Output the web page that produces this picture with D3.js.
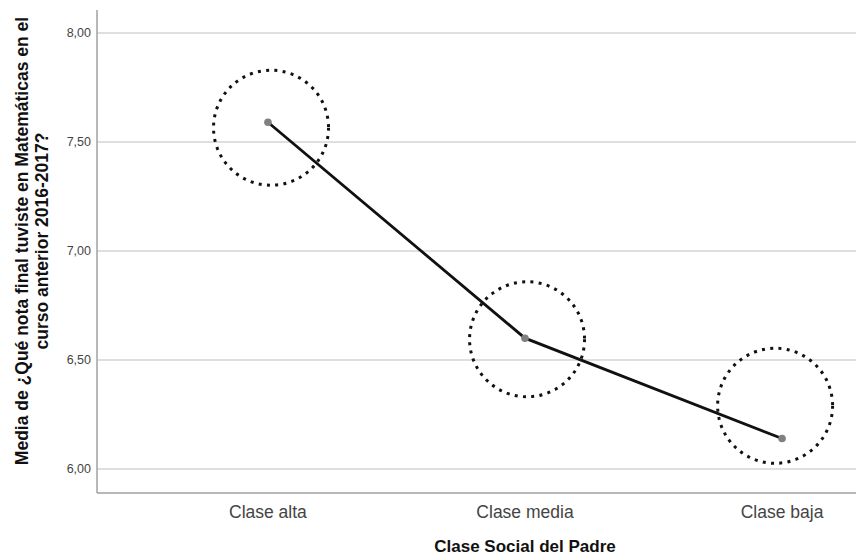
<!DOCTYPE html>
<html>
<head>
<meta charset="utf-8">
<script src="https://cdn.jsdelivr.net/npm/d3@7/dist/d3.min.js"></script>
<style>
  html, body { margin: 0; padding: 0; background: #fff; }
  svg { display: block; font-family: "Liberation Sans", Arial, sans-serif; }
</style>
</head>
<body>
<svg id="chart" width="856" height="556"></svg>
<script>
// ---- data ----
const categories = ["Clase alta", "Clase media", "Clase baja"];
const means = [7.59, 6.60, 6.14];
const yTicks = [6.0, 6.5, 7.0, 7.5, 8.0];
// dotted highlight rings: centre as (category index, value)
const highlightIndex = [0.012, 1.008, 1.973];
const highlightValue = [7.565, 6.595, 6.29];
const yTitleLines = ["Media de ¿Qué nota final tuviste en Matemáticas en el", "curso anterior 2016-2017?"];
const xTitle = "Clase Social del Padre";

// ---- layout ----
const W = 856, H = 556;
const plotLeft = 97, plotTop = 10, plotBottom = 493, rightRange = 953;

const svg = d3.select("#chart");

const x = d3.scalePoint().domain(categories).range([plotLeft, rightRange]).padding(0.665);
const xi = d3.scaleLinear().domain([0, categories.length - 1])
  .range([x(categories[0]), x(categories[categories.length - 1])]);
const y = d3.scaleLinear().domain([5.89, 8.105]).range([plotBottom, plotTop]);

// gridlines
svg.append("g").selectAll("line").data(yTicks).join("line")
  .attr("x1", plotLeft).attr("x2", W)
  .attr("y1", d => y(d)).attr("y2", d => y(d))
  .attr("stroke", "#d4d4d4").attr("stroke-width", 1.5);

// axes lines
svg.append("line").attr("x1", plotLeft).attr("x2", plotLeft).attr("y1", plotTop).attr("y2", plotBottom)
  .attr("stroke", "#a0a0a0").attr("stroke-width", 1.5);
svg.append("line").attr("x1", plotLeft).attr("x2", W).attr("y1", plotBottom).attr("y2", plotBottom)
  .attr("stroke", "#a0a0a0").attr("stroke-width", 1.5);

// y tick labels
const fmt = d => d3.format(".2f")(d).replace(".", ",");
svg.append("g").selectAll("text").data(yTicks).join("text")
  .attr("x", plotLeft - 6).attr("y", d => y(d)).attr("dy", "0.35em")
  .attr("text-anchor", "end").attr("font-size", 12.5).attr("fill", "#444")
  .text(fmt);

// x tick labels
svg.append("g").selectAll("text").data(categories).join("text")
  .attr("x", d => x(d)).attr("y", 512).attr("dy", "0.35em")
  .attr("text-anchor", "middle").attr("font-size", 17.5).attr("fill", "#444")
  .text(d => d);

// x title
svg.append("text").attr("x", x(categories[1])).attr("y", 546).attr("dy", "0.35em")
  .attr("text-anchor", "middle").attr("font-size", 17).attr("font-weight", "bold").attr("fill", "#111")
  .text(xTitle);

// y title
const yt = svg.append("text").attr("transform", `translate(22, 241) rotate(-90)`)
  .attr("text-anchor", "middle").attr("font-size", 17.5).attr("font-weight", "bold").attr("fill", "#111");
yTitleLines.forEach((l, i) => {
  yt.append("tspan").attr("x", 0).attr("dy", i === 0 ? "0.35em" : "1.15em").text(l);
});

// line
const pts = categories.map((c, i) => ({ c, v: means[i] }));
svg.append("path").datum(pts)
  .attr("d", d3.line().x(d => x(d.c)).y(d => y(d.v)))
  .attr("fill", "none").attr("stroke", "#111").attr("stroke-width", 2.8);

// points
svg.append("g").selectAll("circle").data(pts).join("circle")
  .attr("cx", d => x(d.c)).attr("cy", d => y(d.v)).attr("r", 3.8)
  .attr("fill", "#808080");

// dotted highlight circles
svg.append("g").selectAll("circle").data(highlightIndex.map((k, i) => ({ k, v: highlightValue[i] })))
  .join("circle")
  .attr("cx", d => xi(d.k)).attr("cy", d => y(d.v)).attr("r", 57.5)
  .attr("fill", "none").attr("stroke", "#111").attr("stroke-width", 3)
  .attr("stroke-dasharray", "3,5.3");
</script>
</body>
</html>
